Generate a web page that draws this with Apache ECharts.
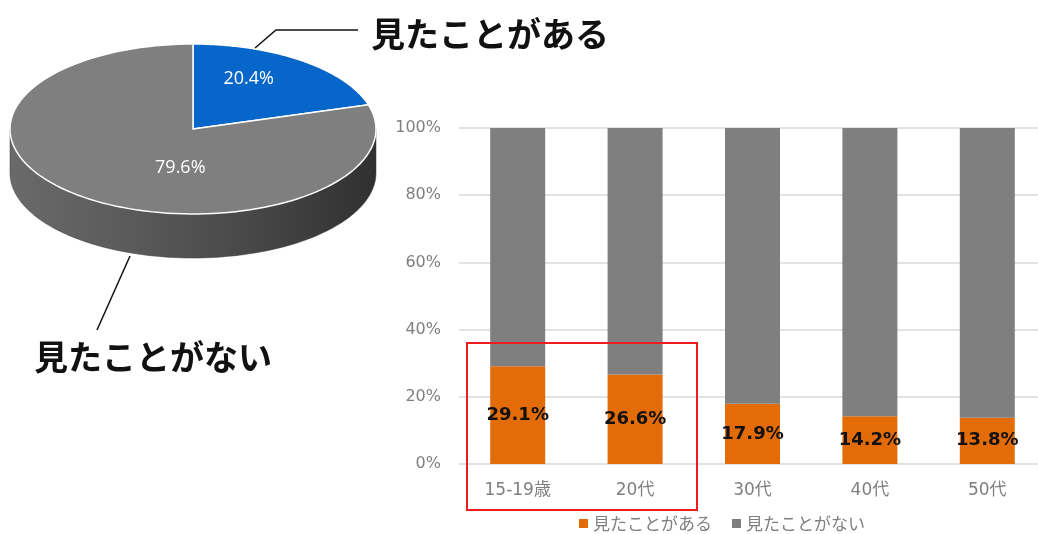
<!DOCTYPE html>
<html>
<head>
<meta charset="utf-8">
<script src="https://cdn.jsdelivr.net/npm/echarts@6/dist/echarts.min.js"></script>
<style>
  html, body { margin: 0; padding: 0; background: #fff; overflow: hidden; }
  /* the plot runs a little past the right edge of the window */
  #chart { width: 1046px; height: 534px; }
</style>
</head>
<body>
<div id="chart"></div>
<script>
// Overall share (pie)
const pieNames = ['見たことがある', '見たことがない'];
const pieValues = [20.4, 79.6];

// By age group (stacked 100% bars)
const ageGroups = ['15-19歳', '20代', '30代', '40代', '50代'];
const seenValues = [29.1, 26.6, 17.9, 14.2, 13.8];
const notSeenValues = [70.9, 73.4, 82.1, 85.8, 86.2];
const yTicks = [0, 20, 40, 60, 80, 100];

const JP = '"Noto Sans CJK JP", "Noto Sans", sans-serif';
const WIDE = '"DejaVu Sans", "Noto Sans CJK JP", sans-serif';

// Tilted pie geometry
const PIE = { cx: 193, cy: 129, rx: 183, ry: 85, depth: 44 };
const pieColors = ['#0766c9', '#7f7f7f'];
const labelShift = [[1, -16], [42, 5]];
const pieTotal = pieValues.reduce((a, b) => a + b, 0);

// angle measured clockwise from 12 o'clock, in radians
function pt(a, dy) {
  return [PIE.cx + PIE.rx * Math.sin(a), PIE.cy - PIE.ry * Math.cos(a) + (dy || 0)];
}
function sliceAngles(i) {
  let s = 0;
  for (let k = 0; k < i; k++) s += pieValues[k];
  const a0 = s / pieTotal * Math.PI * 2;
  const a1 = (s + pieValues[i]) / pieTotal * Math.PI * 2;
  return [a0, a1];
}

function renderSide(params, api) {
  const i = params.dataIndex;
  const [a0, a1] = sliceAngles(i);
  // only the front half (3 o'clock round through 6 to 9 o'clock) shows a wall
  const s = Math.max(a0, Math.PI / 2), e = Math.min(a1, Math.PI * 1.5);
  if (e <= s) return null;
  const pts = [];
  const n = 80;
  for (let k = 0; k <= n; k++) pts.push(pt(s + (e - s) * k / n));
  for (let k = n; k >= 0; k--) pts.push(pt(s + (e - s) * k / n, PIE.depth));
  return {
    type: 'polygon',
    shape: { points: pts },
    style: {
      fill: new echarts.graphic.LinearGradient(0, 0, 1, 0, [
        { offset: 0, color: '#6a6a6a' },
        { offset: 0.35, color: '#595959' },
        { offset: 0.7, color: '#454545' },
        { offset: 1, color: '#303030' }
      ]),
      stroke: '#3a3a3a',
      lineWidth: 0.5
    }
  };
}

function renderTop(params, api) {
  const i = params.dataIndex;
  const [a0, a1] = sliceAngles(i);
  const pts = [[PIE.cx, PIE.cy]];
  const n = 120;
  for (let k = 0; k <= n; k++) pts.push(pt(a0 + (a1 - a0) * k / n));
  const mid = (a0 + a1) / 2;
  const lp = [PIE.cx + PIE.rx * 0.5 * Math.sin(mid) + labelShift[i][0],
              PIE.cy - PIE.ry * 0.5 * Math.cos(mid) + labelShift[i][1]];
  return {
    type: 'group',
    children: [
      {
        type: 'polygon',
        shape: { points: pts },
        style: { fill: pieColors[i], stroke: '#ffffff', lineWidth: 1.5 }
      },
      {
        type: 'text',
        x: lp[0], y: lp[1],
        style: {
          text: api.value(1).toFixed(1) + '%',
          fill: '#ffffff',
          font: '18px "Open Sans", "Noto Sans", sans-serif',
          align: 'center',
          verticalAlign: 'middle'
        }
      }
    ]
  };
}

const pieData = pieNames.map((n, i) => [i, pieValues[i]]);

const chart = echarts.init(document.getElementById('chart'), null, { renderer: 'canvas' });

chart.setOption({
  animation: false,
  backgroundColor: '#ffffff',
  textStyle: { fontFamily: JP },
  legend: {
    data: ['見たことがある', '見たことがない'],
    top: 510,
    left: 574,
    itemWidth: 9,
    itemHeight: 9,
    itemGap: 20,
    icon: 'rect',
    textStyle: { color: '#7f7f7f', fontSize: 17, fontFamily: JP }
  },
  grid: { left: 459, right: 0, top: 128, height: 336 },
  xAxis: {
    type: 'category',
    data: ageGroups,
    axisLine: { show: false },
    axisTick: { show: false },
    axisLabel: { color: '#7f7f7f', fontSize: 17, margin: 18, fontFamily: WIDE }
  },
  yAxis: {
    type: 'value',
    min: yTicks[0],
    max: yTicks[yTicks.length - 1],
    interval: 20,
    axisLabel: {
      color: '#7f7f7f',
      fontSize: 16,
      margin: 18,
      fontFamily: WIDE,
      formatter: v => v + '%'
    },
    splitLine: { lineStyle: { color: '#d9d9d9', width: 1.5 } }
  },
  series: [
    {
      name: '見たことがある',
      type: 'bar',
      stack: 'age',
      barWidth: 55,
      data: seenValues,
      itemStyle: { color: '#e36c09' },
      label: {
        show: true,
        position: 'inside',
        formatter: p => p.value.toFixed(1) + '%',
        color: '#111111',
        fontSize: 18,
        fontWeight: 'bold',
        fontFamily: WIDE
      }
    },
    {
      name: '見たことがない',
      type: 'bar',
      stack: 'age',
      barWidth: 55,
      data: notSeenValues,
      itemStyle: { color: '#7f7f7f' }
    },
    {
      type: 'custom',
      coordinateSystem: 'none',
      data: pieData,
      renderItem: renderSide,
      silent: true,
      z: 1
    },
    {
      type: 'custom',
      coordinateSystem: 'none',
      data: pieData,
      renderItem: renderTop,
      silent: true,
      z: 2
    }
  ],
  graphic: [
    // outline around the younger groups
    {
      type: 'rect',
      shape: { x: 467, y: 343, width: 230, height: 167 },
      style: { fill: 'none', stroke: '#ee1c1c', lineWidth: 2 },
      z: 10
    },
    // callout: 見たことがある
    {
      type: 'polyline',
      shape: { points: [[255, 48], [276, 30], [358, 30]] },
      style: { stroke: '#111111', lineWidth: 1.5, fill: 'none' },
      z: 10
    },
    {
      type: 'text',
      x: 371, y: 34,
      style: {
        text: pieNames[0],
        font: 'bold 34px ' + JP,
        fill: '#111111',
        verticalAlign: 'middle'
      },
      z: 10
    },
    // callout: 見たことがない
    {
      type: 'line',
      shape: { x1: 130, y1: 256, x2: 97, y2: 330 },
      style: { stroke: '#111111', lineWidth: 1.5 },
      z: 10
    },
    {
      type: 'text',
      x: 34, y: 357,
      style: {
        text: pieNames[1],
        font: 'bold 34px ' + JP,
        fill: '#111111',
        verticalAlign: 'middle'
      },
      z: 10
    }
  ]
});
</script>
</body>
</html>
